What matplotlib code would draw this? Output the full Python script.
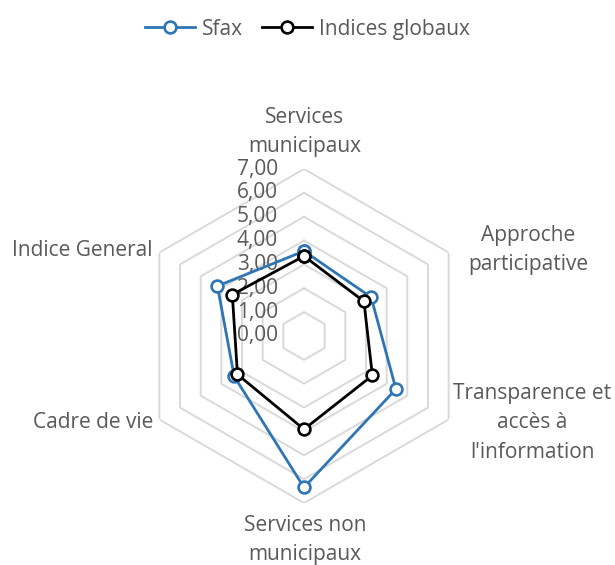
import numpy as np
import matplotlib.pyplot as plt

categories = ['Services\nmunicipaux', 'Approche\nparticipative',
              "Transparence et\naccès à\nl'information", 'Services non\nmunicipaux',
              'Cadre de vie', 'Indice General']
sfax = [3.56, 3.25, 4.45, 6.35, 3.38, 4.19]
globaux = [3.35, 2.9, 3.31, 3.91, 3.22, 3.47]
levels = [0, 1, 2, 3, 4, 5, 6, 7]
level_labels = ['0,00', '1,00', '2,00', '3,00', '4,00', '5,00', '6,00', '7,00']

plt.rcParams['font.family'] = ['Open Sans', 'DejaVu Sans']
grey = '#595959'

fig = plt.figure(figsize=(6.15, 5.65), dpi=100)
ax = fig.add_axes([137/615, 62/565, 334/615, 334/565], projection='polar')
ax.set_theta_zero_location('N')
ax.set_theta_direction(-1)

n = len(categories)
angles = np.linspace(0, 2*np.pi, n, endpoint=False)
ang_c = np.append(angles, angles[0])

# hexagonal grid
for r in levels[1:]:
    ax.plot(ang_c, [r]*(n+1), color='#d9d9d9', lw=1.4, zorder=1)

ax.plot(ang_c, sfax + sfax[:1], color='#2e75b6', lw=2, marker='o', ms=8.5,
        mfc='white', mec='#2e75b6', mew=1.9, label='Sfax', zorder=3)
ax.plot(ang_c, globaux + globaux[:1], color='black', lw=2, marker='o', ms=8.5,
        mfc='white', mec='black', mew=1.9, label='Indices globaux', zorder=4)

ax.set_ylim(0, 7)
ax.grid(False)
ax.spines['polar'].set_visible(False)
ax.set_xticks([])
ax.set_yticks([])

for v, lab in zip(levels, level_labels):
    ax.annotate(lab, xy=(0, v), xytext=(-26, 0), textcoords='offset pixels',
                ha='right', va='center', fontsize=15, color=grey, zorder=2)

# category labels
lab_pos = [(305, 132, 'center'), (528, 250, 'center'), (532, 423, 'center'),
           (305, 540, 'center'), (153, 422, 'right'), (153, 250, 'right')]
for cat, (x, y, ha) in zip(categories, lab_pos):
    fig.text(x/615, 1 - y/565, cat, ha=ha, va='center', fontsize=15,
             color=grey, linespacing=1.55, multialignment='center')

fig.legend(loc='upper center', bbox_to_anchor=(0.5, 1.0), ncol=2, frameon=False,
           fontsize=15, handlelength=2.4, columnspacing=0.9, handletextpad=0.35,
           labelcolor=grey)

plt.savefig('out.png', dpi=100)
